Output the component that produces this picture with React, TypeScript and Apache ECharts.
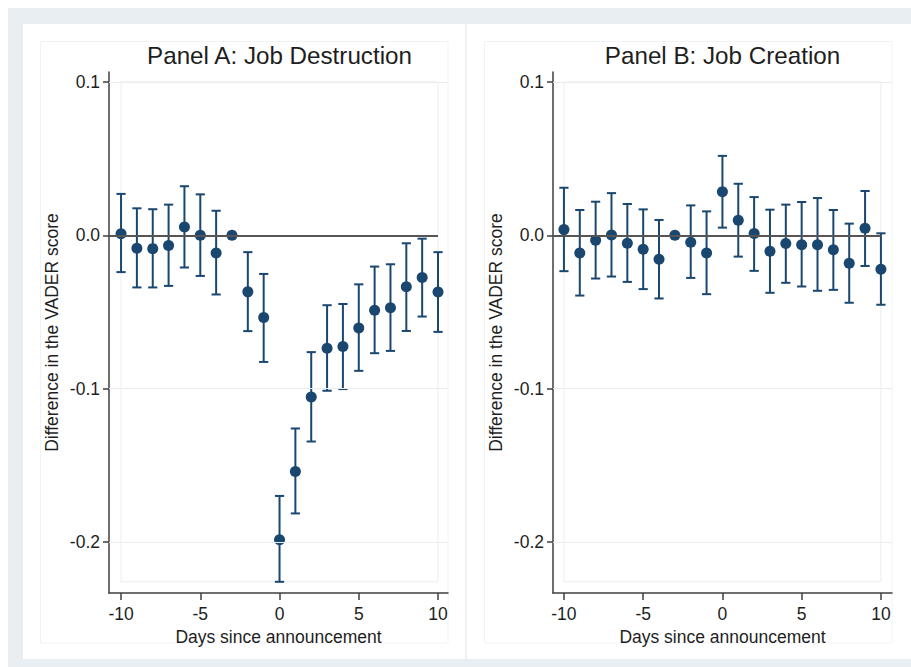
import React, { useEffect, useRef } from "react";
import * as echarts from "echarts";

// ---------- data ----------
const days = [-10, -9, -8, -7, -6, -5, -4, -3, -2, -1, 0, 1, 2, 3, 4, 5, 6, 7, 8, 9, 10];

const pointA = [0.001, -0.0085, -0.0087, -0.0067, 0.0054, 0.0, -0.0115, 0, -0.0369, -0.0536, -0.1985, -0.154, -0.1055, -0.0736, -0.0726, -0.0604, -0.0489, -0.0472, -0.0335, -0.0276, -0.037];
const upperA = [0.027, 0.0176, 0.017, 0.02, 0.032, 0.0267, 0.016, null, -0.011, -0.0252, -0.17, -0.126, -0.0762, -0.0456, -0.0448, -0.032, -0.0204, -0.0189, -0.0052, -0.0022, -0.011];
const lowerA = [-0.024, -0.034, -0.034, -0.033, -0.021, -0.0265, -0.0386, null, -0.0625, -0.0826, -0.226, -0.1814, -0.1345, -0.1014, -0.1003, -0.0884, -0.0769, -0.0754, -0.0624, -0.053, -0.063];

const pointB = [0.0037, -0.0115, -0.0033, 0.0002, -0.0052, -0.0091, -0.0156, 0, -0.0046, -0.0115, 0.0284, 0.0098, 0.0011, -0.0104, -0.0054, -0.0061, -0.0061, -0.0095, -0.0182, 0.0046, -0.0221];
const upperB = [0.031, 0.0165, 0.0219, 0.0275, 0.0204, 0.0169, 0.01, null, 0.0195, 0.0156, 0.0518, 0.0336, 0.0249, 0.0167, 0.02, 0.0217, 0.0243, 0.0165, 0.0076, 0.0289, 0.0013];
const lowerB = [-0.0234, -0.0393, -0.0282, -0.0269, -0.0304, -0.0351, -0.0412, null, -0.0278, -0.0384, 0.005, -0.0139, -0.0232, -0.0375, -0.031, -0.0334, -0.0362, -0.0356, -0.044, -0.02, -0.0453];

const xTicks = [-10, -5, 0, 5, 10];
const yTicks = [-0.2, -0.1, 0, 0.1];
const gridTicks = [-0.2, -0.1, 0.1];

const titleA = "Panel A: Job Destruction";
const titleB = "Panel B: Job Creation";
const xTitle = "Days since announcement";
const yTitle = "Difference in the VADER score";

// ---------- styles ----------
const NAVY = "#1a476f";
const AXIS = "#3f3f3f";
const TEXT = "#1e1e1e";
const FAINT = "#e9edf0";
const FRAME = "#e9eef2";
const FONT = "'Liberation Sans', Arial, Helvetica, sans-serif";

const Y_MIN = -0.2333;
const Y_MAX = 0.1065;

export default function App() {
  const ref = useRef<HTMLDivElement>(null);

  useEffect(() => {
    if (!ref.current) return;
    const chart = echarts.init(ref.current, undefined, { renderer: "svg" });

    const allLower = [...lowerA, ...lowerB].filter((v) => v != null) as number[];
    const regionBottom = Math.min(...allLower);
    const xFirst = days[0];
    const xLast = days[days.length - 1];
    const yTop = Math.max(...yTicks);

    const panels = [
      { point: pointA, upper: upperA, lower: lowerA, left: 109, xMin: -10.76, xMax: 10.63 },
      { point: pointB, upper: upperB, lower: lowerB, left: 553, xMin: -10.69, xMax: 10.7 },
    ];

    const grids = panels.map((p) => ({
      left: p.left,
      top: 72,
      width: 339,
      height: 521,
      outerBoundsMode: "none",
      containLabel: false,
    }));

    const xAxes = panels.map((p, i) => ({
      type: "value",
      gridIndex: i,
      min: p.xMin,
      max: p.xMax,
      name: xTitle,
      nameLocation: "middle",
      nameGap: 29,
      nameTextStyle: { color: TEXT, fontSize: 17.5, fontFamily: FONT },
      axisLine: { show: true, onZero: false, lineStyle: { color: AXIS, width: 1.5 } },
      axisTick: { show: true, length: 7, customValues: xTicks, lineStyle: { color: AXIS, width: 1.5 } },
      axisLabel: {
        show: true,
        customValues: xTicks,
        margin: 12,
        color: TEXT,
        fontSize: 17.5,
        fontFamily: FONT,
        formatter: (v: number) => String(v),
      },
      splitLine: { show: false },
    }));

    const yAxes = panels.map((p, i) => ({
      type: "value",
      gridIndex: i,
      min: Y_MIN,
      max: Y_MAX,
      name: yTitle,
      nameLocation: "middle",
      nameGap: 48,
      nameTextStyle: { color: TEXT, fontSize: 17.5, fontFamily: FONT },
      axisLine: { show: true, onZero: false, lineStyle: { color: AXIS, width: 1.5 } },
      axisTick: { show: true, length: 6, customValues: yTicks, lineStyle: { color: AXIS, width: 1.5 } },
      axisLabel: {
        show: true,
        customValues: yTicks,
        margin: 9,
        color: TEXT,
        fontSize: 17.5,
        fontFamily: FONT,
        formatter: (v: number) => v.toFixed(1),
      },
      splitLine: { show: false },
    }));

    const series: any[] = [];
    panels.forEach((p, i) => {
      // reference lines and plot region
      series.push({
        type: "line",
        xAxisIndex: i,
        yAxisIndex: i,
        data: [],
        z: 1,
        silent: true,
        markLine: {
          silent: true,
          symbol: "none",
          label: { show: false },
          animation: false,
          data: [
            ...gridTicks.map((t) => ({ yAxis: t, lineStyle: { color: FAINT, width: 1, type: "solid" } })),
            [
              { coord: [p.xMin, 0], lineStyle: { color: "#555555", width: 2, type: "solid" } },
              { coord: [xLast, 0] },
            ],
          ],
        },
        markArea: {
          silent: true,
          itemStyle: { color: "rgba(0,0,0,0)", borderColor: FAINT, borderWidth: 1 },
          data: [[{ coord: [xFirst, yTop] }, { coord: [xLast, regionBottom] }]],
        },
      });
      // error bars
      const barData = days
        .map((d, k) => [d, p.lower[k], p.upper[k]])
        .filter((r) => r[1] != null && r[2] != null);
      series.push({
        type: "custom",
        xAxisIndex: i,
        yAxisIndex: i,
        z: 2,
        silent: true,
        data: barData,
        encode: { x: 0, y: [1, 2] },
        renderItem: (params: any, api: any) => {
          const x = api.value(0);
          const lo = api.value(1);
          const hi = api.value(2);
          const pHi = api.coord([x, hi]);
          const pLo = api.coord([x, lo]);
          const hw = 4.6;
          const style = { stroke: NAVY, lineWidth: 2, fill: "none" };
          return {
            type: "group",
            children: [
              { type: "line", shape: { x1: pHi[0], y1: pHi[1], x2: pLo[0], y2: pLo[1] }, style },
              { type: "line", shape: { x1: pHi[0] - hw, y1: pHi[1], x2: pHi[0] + hw, y2: pHi[1] }, style },
              { type: "line", shape: { x1: pLo[0] - hw, y1: pLo[1], x2: pLo[0] + hw, y2: pLo[1] }, style },
            ],
          };
        },
      });
      // point estimates
      series.push({
        type: "scatter",
        xAxisIndex: i,
        yAxisIndex: i,
        z: 3,
        symbol: "circle",
        symbolSize: 11,
        itemStyle: { color: NAVY, opacity: 1 },
        data: days.map((d, k) => [d, p.point[k]]),
      });
    });

    const graphic = [
      { type: "rect", z: -20, silent: true, shape: { x: 8, y: 8, width: 903, height: 659 }, style: { fill: FRAME } },
      { type: "rect", z: -19, silent: true, shape: { x: 23, y: 24, width: 442, height: 635 }, style: { fill: "#ffffff" } },
      { type: "rect", z: -19, silent: true, shape: { x: 465, y: 24, width: 2, height: 635 }, style: { fill: "#eef2f5" } },
      { type: "rect", z: -19, silent: true, shape: { x: 467, y: 24, width: 444, height: 635 }, style: { fill: "#ffffff" } },
      { type: "rect", z: -18, silent: true, shape: { x: 40.5, y: 41.5, width: 407.5, height: 601.5 }, style: { fill: "none", stroke: "#f0f3f5", lineWidth: 1 } },
      { type: "rect", z: -18, silent: true, shape: { x: 484.5, y: 41.5, width: 407.5, height: 601.5 }, style: { fill: "none", stroke: "#f0f3f5", lineWidth: 1 } },
      {
        type: "text",
        x: 279.5,
        y: 55,
        style: { text: titleA, fill: TEXT, fontSize: 24.2, fontFamily: FONT, align: "center", verticalAlign: "middle" },
      },
      {
        type: "text",
        x: 722.5,
        y: 55,
        style: { text: titleB, fill: TEXT, fontSize: 24.2, fontFamily: FONT, align: "center", verticalAlign: "middle" },
      },
    ];

    chart.setOption({
      animation: false,
      backgroundColor: "#ffffff",
      grid: grids,
      xAxis: xAxes,
      yAxis: yAxes,
      series,
      graphic,
    } as any);

    return () => chart.dispose();
  }, []);

  return (
    <div
      ref={ref}
      style={{ position: "fixed", left: 0, top: 0, width: 911, height: 667 }}
    />
  );
}
